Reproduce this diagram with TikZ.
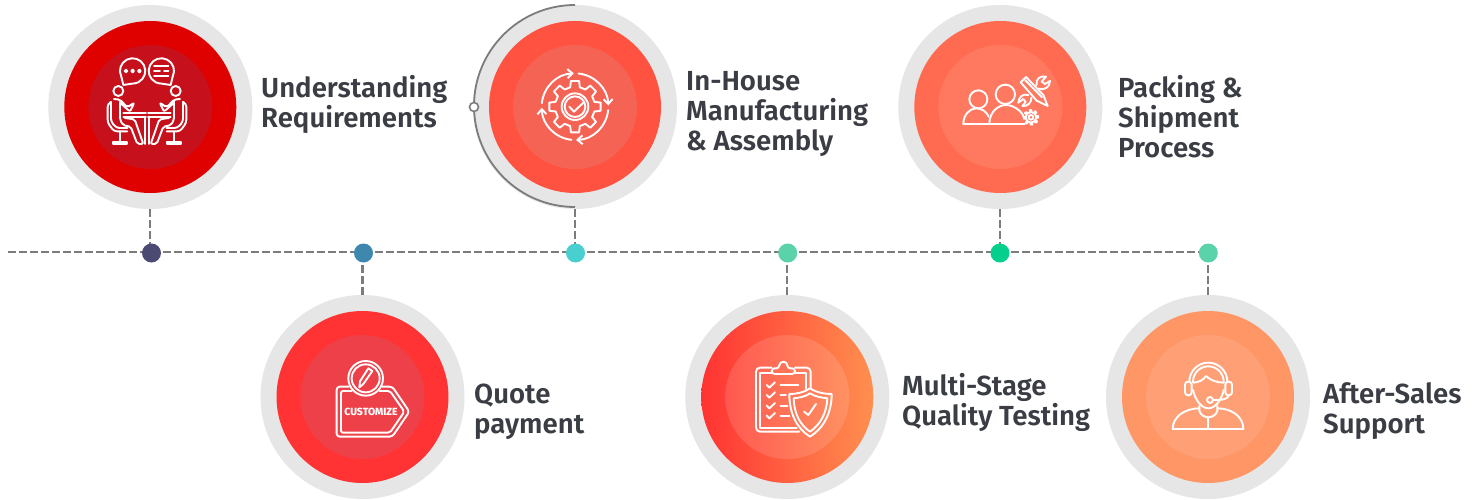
\documentclass[tikz,border=0pt]{standalone}
\usepackage{fontspec}
\setmainfont{Fira Sans}[BoldFont={Fira Sans SemiBold}]
\newfontfamily\heavyfont{Fira Sans ExtraBold}
\usetikzlibrary{arrows.meta}
\definecolor{ringgrey}{HTML}{E6E6E6}
\definecolor{linegrey}{HTML}{7C7C7C}
\definecolor{labelink}{HTML}{3A3D44}
\definecolor{discA}{HTML}{DF0000}\definecolor{coreA}{HTML}{C6101C}
\definecolor{discB}{HTML}{FF3333}\definecolor{coreB}{HTML}{EE4049}
\definecolor{discC}{HTML}{FF5240}\definecolor{coreC}{HTML}{F56355}
\definecolor{discD}{HTML}{FF6B50}\definecolor{coreD}{HTML}{FF7860}
\definecolor{discE}{HTML}{FF3333}\definecolor{discEr}{HTML}{FF8F4F}
\definecolor{discF}{HTML}{FF9666}\definecolor{coreF}{HTML}{FF9F75}
\definecolor{dotA}{HTML}{4A4A72}
\definecolor{dotB}{HTML}{3E87AE}
\definecolor{dotC}{HTML}{48D0D0}
\definecolor{dotD}{HTML}{5AD3AA}
\definecolor{dotE}{HTML}{05CF8D}
\tikzset{
  halo/.style={circle,inner sep=0pt,outer sep=0pt,minimum size=204pt,fill=ringgrey},
  disc/.style={circle,inner sep=0pt,outer sep=0pt,minimum size=172pt},
  core/.style={circle,inner sep=0pt,outer sep=0pt,minimum size=124pt},
  dot/.style={circle,inner sep=0pt,outer sep=0pt,minimum size=19pt},
  dashline/.style={draw=linegrey,line width=2.1pt,dash pattern=on 8pt off 3pt},
  stagelabel/.style={anchor=west,align=left,inner sep=0pt,text=labelink,font=\fontsize{27.6}{30}\selectfont\bfseries},
  icon/.style={draw=white,line width=1.9pt,line cap=round,line join=round},
  zoomed/.style={x=0.33333pt,y=-0.33333pt,icon}
}
\newcommand{\halfperson}{
  \draw[rounded corners=3pt] (213,306)--(203,312)--(203,368)--(222,394)--(262,394);
  \draw[rounded corners=3pt] (213,306)--(213,365)--(230,384)--(262,384);
  \draw (240,394)--(240,425);
  \draw (218,425) rectangle (262,432);
  \draw (235,273) circle[radius=15];
  \draw[rounded corners=2pt] (222,297)--(240,299)--(262,322)--(283,308)--(270,335)--(242,310);
  \draw[rounded corners=2pt] (240,305)--(240,360)--(250,376)--(272,380)--(292,432)--(310,432)--(284,358)--(255,354);
  \draw (250,338)--(318,338);
  \draw (250,350)--(318,350);
}
\begin{document}
\begin{tikzpicture}[x=1pt,y=-1pt]
\useasboundingbox[fill=white] (0,0) rectangle (1483,500);
% halo, disc, core of every stage
\node[halo] (h1) at (150.3,107) {};
\node[disc,fill=discA] (m1) at (150.3,107) {};
\node[core,fill=coreA] (k1) at (150.3,107) {};
\node[halo] (h2) at (362.5,397) {};
\node[disc,fill=discB] (m2) at (362.5,397) {};
\node[core,fill=coreB] (k2) at (362.5,397) {};
\node[halo] (h3) at (575,107) {};
\node[disc,fill=discC] (m3) at (575,107) {};
\node[core,fill=coreC] (k3) at (575,107) {};
\node[halo] (h4) at (1000.3,107) {};
\node[disc,fill=discD] (m4) at (1000.3,107) {};
\node[core,fill=coreD] (k4) at (1000.3,107) {};
\node[halo] (h5) at (787.3,397) {};
\node[disc,left color=discE,right color=discEr] (m5) at (787.3,397) {};
\node[core,fill=white,fill opacity=0.13] (k5) at (787.3,397) {};
\node[halo] (h6) at (1208,397) {};
\node[disc,fill=discF] (m6) at (1208,397) {};
\node[core,fill=coreF] (k6) at (1208,397) {};
% dots
\coordinate (start) at (8,252.3);
\coordinate (d1c) at (151.5,252.3);
\coordinate (d2c) at (363.5,252.3);
\coordinate (d3c) at (575.5,252.3);
\coordinate (d4c) at (787.7,252.3);
\coordinate (d5c) at (1000,252.3);
\coordinate (d6c) at (1208.3,252.3);
% timeline
\draw[dashline] (start)--(d1c);
\draw[dashline] (d1c)--(d2c);
\draw[dashline] (d2c)--(d3c);
\draw[dashline] (d3c)--(d4c);
\draw[dashline] (d4c)--(d5c);
\draw[dashline] (d5c)--(d6c);
% drops
\draw[dashline] (h1.south)--(h1.south |- d1c);
\draw[dashline] (h3.south)--(h3.south |- d3c);
\draw[dashline] (h4.south)--(h4.south |- d5c);
\draw[dashline] (h2.north)--(h2.north |- d2c);
\draw[dashline] (h5.north)--(h5.north |- d4c);
\draw[dashline] (h6.north)--(h6.north |- d6c);
\node[dot,fill=dotA] (d1) at (151.5,253) {};
\node[dot,fill=dotB] (d2) at (363.5,253) {};
\node[dot,fill=dotC] (d3) at (575.5,253) {};
\node[dot,fill=dotD] (d4) at (787.7,253) {};
\node[dot,fill=dotE] (d5) at (1000,253) {};
\node[dot,fill=dotD] (d6) at (1208.3,253) {};
% arc around stage 3
\draw[draw=linegrey,line width=1.8pt] (h3.north) arc[start angle=-90,end angle=-270,radius=101];
\node[circle,draw=linegrey,line width=1.6pt,fill=white,minimum size=9pt,inner sep=0pt] (ring) at (474,107) {};
% labels
\node[stagelabel] (t1) at (261,104) {Understanding\\Requirements};
\node[stagelabel] (t2) at (474,412) {Quote\\payment};
\node[stagelabel] (t3) at (686,114) {In-House\\Manufacturing\\\& Assembly};
\node[stagelabel] (t4) at (1118,117) {Packing \&\\Shipment\\Process};
\node[stagelabel] (t5) at (902,402) {Multi-Stage\\Quality Testing};
\node[stagelabel] (t6) at (1323,411.5) {After-Sales\\Support};
% icon 1: two people at a table
\begin{scope}[shift={(40pt,0pt)},zoomed,every path/.style={icon}]
  \draw (244,230) arc[start angle=153,end angle=450,radius=38] -- (250,255) -- cycle;
  \draw (398,230) arc[start angle=27,end angle=-270,radius=38] -- (392,255) -- cycle;
  \foreach \px in {258,278,298} \draw[fill=white] (\px,213) circle[radius=4];
  \draw (342,197)--(385,197) (342,213)--(360,213) (372,213)--(385,213) (342,229)--(385,229);
  \halfperson
  \begin{scope}[shift={(214pt,0pt)},xscale=-1]
    \halfperson
  \end{scope}
  \draw (316,350)--(316,432) (326,350)--(326,432);
\end{scope}
% icon 2: customize tag
\begin{scope}[shift={(255pt,-240pt)},zoomed,every path/.style={icon}]
  \draw (332,415) circle[radius=52];
  \draw (332,415) circle[radius=42];
  \draw (340,385)--(352,393)--(325,432)--(313,442)--(315,424)--cycle;
  \draw[rounded corners=3pt] (282,440)--(245,440)--(245,590)--(412,590)--(463,515)--(412,440)--(382,440);
  \draw[rounded corners=2pt] (290,453)--(258,453)--(258,578)--(405,578)--(448,515)--(405,453)--(374,453);
  \node[text=white,inner sep=0pt,font=\fontsize{10.4}{11}\selectfont\heavyfont] (tagtext) at (348,515) {CUSTOMIZE};
\end{scope}
% icon 3: gear with cycle arrows
\begin{scope}[shift={(460pt,0pt)},zoomed,every path/.style={icon}]
  \begin{scope}[shift={(115pt,-106.67pt)}]
    \foreach \a in {186,276,6,96}
      \draw[-{Straight Barb[length=5pt,width=9pt]}] (\a:100) arc[start angle=\a,end angle=\a+82,radius=100];
    \draw (0,0) circle[radius=40];
    \draw (0,0) circle[radius=31];
    \foreach \a in {0,45,...,315}
      \draw (\a-14:60)--(\a-9:78)--(\a+9:78)--(\a+14:60)--(\a+31:60);
    \draw (-17,0)--(-3,15)--(25,-12);
  \end{scope}
\end{scope}
% icon 4: team with tools
\begin{scope}[shift={(890pt,0pt)},zoomed,every path/.style={icon}]
  \draw (265,298) circle[radius=27];
  \draw (346,283) circle[radius=29];
  \draw (220,372) .. controls (220,345) and (238,326) .. (258,325) .. controls (275,325) and (290,335) .. (296,350);
  \draw (298,372) .. controls (298,335) and (325,315) .. (348,315) .. controls (375,315) and (400,340) .. (400,350);
  \draw (220,372)--(405,372);
  \draw (392,247)--(408,231)--(460,285)--(473,318)--(440,302)--cycle;
  \draw (405,240)--(456,292);
  \draw (385,308) .. controls (386,290) and (400,280) .. (415,285);
  \draw (445,266) .. controls (462,272) and (480,262) .. (480,243) -- (465,252) -- (455,245) -- (468,230) .. controls (450,226) and (436,238) .. (440,255);
  \draw (385,308) -- (400,297) -- (407,306) -- (397,318) .. controls (412,320) and (425,308) .. (424,293);
  \draw (423,352) circle[radius=7];
  \foreach \a in {0,45,...,315}
    \draw (423,352) ++(\a-12:16)--++(\a-6:6)--++(\a+90:5)--++(\a+180:5);
  \draw (423,352) circle[radius=16];
\end{scope}
% icon 5: clipboard and shield
\begin{scope}[shift={(680pt,-240pt)},zoomed,every path/.style={icon}]
  \draw[rounded corners=4pt] (275,383)--(228,383)--(228,575)--(358,575);
  \draw[rounded corners=4pt] (345,383)--(392,383)--(392,445);
  \draw (275,400)--(240,400)--(240,563)--(350,563);
  \draw (345,400)--(378,400)--(378,448);
  \draw[rounded corners=3pt] (275,402)--(275,385)--(298,385) .. controls (298,362) and (322,362) .. (322,385) -- (345,385)--(345,402)--cycle;
  \foreach \py/\len in {435/355,465/318,497/322,527/328}{
    \draw (260,\py)--(268,\py+8)--(285,\py-8);
    \draw (302,\py)--(\len,\py);
  }
  \draw (390,445) .. controls (410,458) and (435,462) .. (455,462) .. controls (455,520) and (430,565) .. (390,590) .. controls (350,565) and (328,520) .. (328,462) .. controls (348,462) and (372,458) .. (390,445) -- cycle;
  \draw (390,460) .. controls (405,470) and (425,473) .. (442,475) .. controls (440,520) and (420,555) .. (390,575) .. controls (360,555) and (342,520) .. (341,475) .. controls (358,473) and (376,470) .. (390,460) -- cycle;
  \draw (372,515)--(385,525)--(408,492);
\end{scope}
% icon 6: support agent
\begin{scope}[shift={(1100pt,-240pt)},zoomed,every path/.style={icon}]
  \draw (268,425) arc[start angle=180,end angle=360,radius=57];
  \draw (279,425) arc[start angle=180,end angle=360,radius=46];
  \draw[rounded corners=3pt] (255,425) rectangle (275,466);
  \draw[rounded corners=3pt] (376,425) rectangle (396,466);
  \draw (279,428) .. controls (295,428) and (310,420) .. (318,408) .. controls (330,420) and (350,428) .. (372,428);
  \draw (279,450) .. controls (285,480) and (305,505) .. (325,505) .. controls (345,505) and (365,480) .. (371,450);
  \draw (386,466) .. controls (385,478) and (365,480) .. (340,480);
  \draw (330,480) circle[radius=9];
  \draw (298,498) -- (298,512) .. controls (300,525) and (315,532) .. (325,532) .. controls (335,532) and (350,525) .. (352,512) -- (352,498);
  \draw (218,567) .. controls (218,530) and (255,505) .. (298,505);
  \draw (352,505) .. controls (395,505) and (430,530) .. (430,567);
  \draw (218,567)--(430,567);
  \draw (325,532)--(325,567);
\end{scope}
\end{tikzpicture}
\end{document}
